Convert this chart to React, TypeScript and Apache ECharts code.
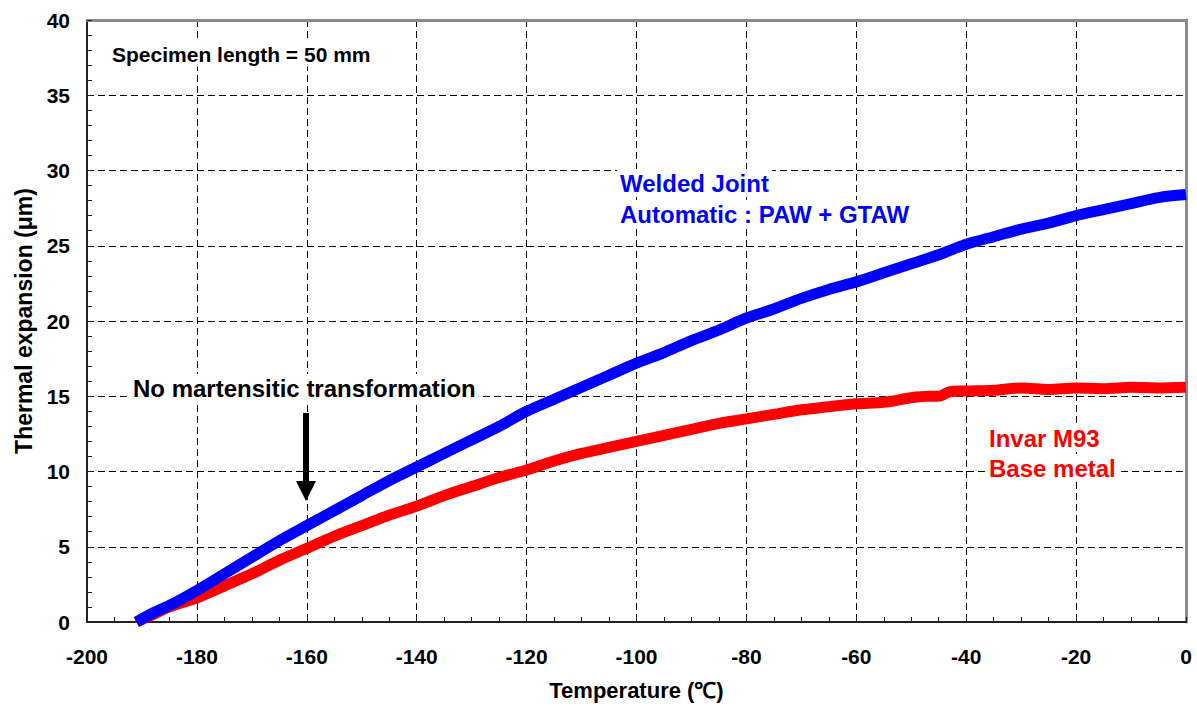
import React, { useEffect, useRef } from "react";
import * as echarts from "echarts";

const FONT = "'Liberation Sans', Arial, Helvetica, sans-serif";

// Welded joint (blue) readings: temperature (°C), thermal expansion (µm)
const weldedT = [-191, -188, -185, -180, -175, -170, -165, -160, -155, -150, -145, -140, -135, -130, -125, -120, -115, -110, -105, -100, -95, -90, -85, -80, -75, -70, -65, -60, -55, -50, -45, -40, -35, -30, -25, -20, -15, -10, -5, 0];
const weldedV = [0, 0.6, 1.1, 2.1, 3.2, 4.3, 5.4, 6.4, 7.4, 8.4, 9.4, 10.3, 11.2, 12.1, 13.0, 14.0, 14.8, 15.6, 16.4, 17.2, 17.9, 18.7, 19.4, 20.2, 20.8, 21.5, 22.1, 22.6, 23.2, 23.8, 24.4, 25.1, 25.6, 26.1, 26.5, 27.0, 27.4, 27.8, 28.2, 28.4];

// Invar M93 base metal (red) readings
const baseT = [-191, -188, -185, -180, -175, -170, -165, -160, -155, -150, -145, -140, -135, -130, -125, -120, -115, -110, -105, -100, -95, -90, -85, -80, -75, -70, -65, -60, -55, -50, -47, -45, -43, -40, -35, -30, -25, -20, -15, -10, -5, 0];
const baseV = [0, 0.5, 1.0, 1.6, 2.4, 3.2, 4.1, 4.9, 5.7, 6.4, 7.1, 7.7, 8.4, 9.0, 9.6, 10.1, 10.7, 11.2, 11.6, 12.0, 12.4, 12.8, 13.2, 13.5, 13.8, 14.1, 14.3, 14.5, 14.6, 14.9, 15.0, 15.0, 15.3, 15.35, 15.4, 15.55, 15.45, 15.55, 15.5, 15.6, 15.55, 15.6];

const xMin = -200, xMax = 0, xStep = 20;
const yMin = 0, yMax = 40, yStep = 5;

export default function App() {
  const ref = useRef<HTMLDivElement>(null);
  useEffect(() => {
    if (!ref.current) return;
    const chart = echarts.init(ref.current, null, { renderer: "svg" });
    const pair = (t: number[], v: number[]) => t.map((x, i) => [x, v[i]]);
    const labelStyle = { color: "#000", fontFamily: FONT, fontWeight: "bold" as const, fontSize: 21 };
    const note = (text: string, x: number, y: number, size: number, color: string) => ({
      type: "text", x: x - 3, y, z: 20,
      style: {
        text, fill: color, fontFamily: FONT, fontWeight: "bold", fontSize: size,
        textAlign: "left", textVerticalAlign: "middle", verticalAlign: "middle",
        backgroundColor: "#fff", padding: [2, 3, 2, 3],
      },
    });
    chart.setOption({
      animation: false,
      backgroundColor: "#fff",
      textStyle: { fontFamily: FONT },
      grid: { left: 87, right: 11, top: 20, bottom: 86, containLabel: false },
      xAxis: [
        {
          type: "value", min: xMin, max: xMax, interval: xStep,
          name: "Temperature (℃)", nameLocation: "middle", nameGap: 57,
          nameTextStyle: { ...labelStyle, fontSize: 22 },
          axisLine: { show: true, onZero: false, lineStyle: { color: "#222", width: 2 } },
          axisTick: { show: true, inside: true, length: 5, lineStyle: { color: "#222" } },
          minorTick: { show: true, splitNumber: 4, length: 5, lineStyle: { color: "#222" } },
          axisLabel: { ...labelStyle, margin: 24 },
          splitLine: { show: true, lineStyle: { color: "#000", type: [7, 4], width: 1 } },
        },
        {
          type: "value", min: xMin, max: xMax, position: "top",
          axisLine: { show: true, onZero: false, lineStyle: { color: "#8a8a8a", width: 3 } },
          axisTick: { show: false }, axisLabel: { show: false }, splitLine: { show: false },
        },
      ],
      yAxis: [
        {
          type: "value", min: yMin, max: yMax, interval: yStep,
          name: "Thermal expansion (μm)", nameLocation: "middle", nameGap: 52,
          nameTextStyle: { ...labelStyle, fontSize: 23 },
          axisLine: { show: true, onZero: false, lineStyle: { color: "#222", width: 2 } },
          axisTick: { show: true, inside: true, length: 5, lineStyle: { color: "#222" } },
          minorTick: { show: true, splitNumber: 5, length: 5, lineStyle: { color: "#222" } },
          axisLabel: { ...labelStyle, margin: 17 },
          splitLine: { show: true, lineStyle: { color: "#000", type: [7, 4], width: 1 } },
        },
        {
          type: "value", min: yMin, max: yMax, position: "right",
          axisLine: { show: true, onZero: false, lineStyle: { color: "#8a8a8a", width: 3 } },
          axisTick: { show: false }, axisLabel: { show: false }, splitLine: { show: false },
        },
      ],
      series: [
        {
          name: "Invar M93 Base metal", type: "line", data: pair(baseT, baseV),
          showSymbol: false, smooth: 0.3,
          lineStyle: { color: "#ff0000", width: 11 }, z: 3,
        },
        {
          name: "Welded Joint", type: "line", data: pair(weldedT, weldedV),
          showSymbol: false, smooth: 0.3,
          lineStyle: { color: "#0000ff", width: 11 }, z: 4,
        },
      ],
      graphic: [
        note("Specimen length = 50 mm", 112, 54, 21, "#000"),
        note("No martensitic transformation", 133, 388, 24, "#000"),
        { type: "rect", z: 20, shape: { x: 303, y: 413, width: 6, height: 70 }, style: { fill: "#000" } },
        { type: "polygon", z: 20, shape: { points: [[296, 481], [316, 481], [306, 501]] }, style: { fill: "#000" } },
        note("Welded Joint", 620, 183, 24, "#0000ff"),
        note("Automatic : PAW + GTAW", 620, 214, 24, "#0000ff"),
        note("Invar M93", 989, 438, 24, "#ff0000"),
        note("Base metal", 989, 468, 24, "#ff0000"),
      ],
    });
    return () => chart.dispose();
  }, []);
  return (
    <div
      ref={ref}
      style={{ position: "absolute", left: 0, top: 0, width: 1197, height: 708, background: "#fff" }}
    />
  );
}
